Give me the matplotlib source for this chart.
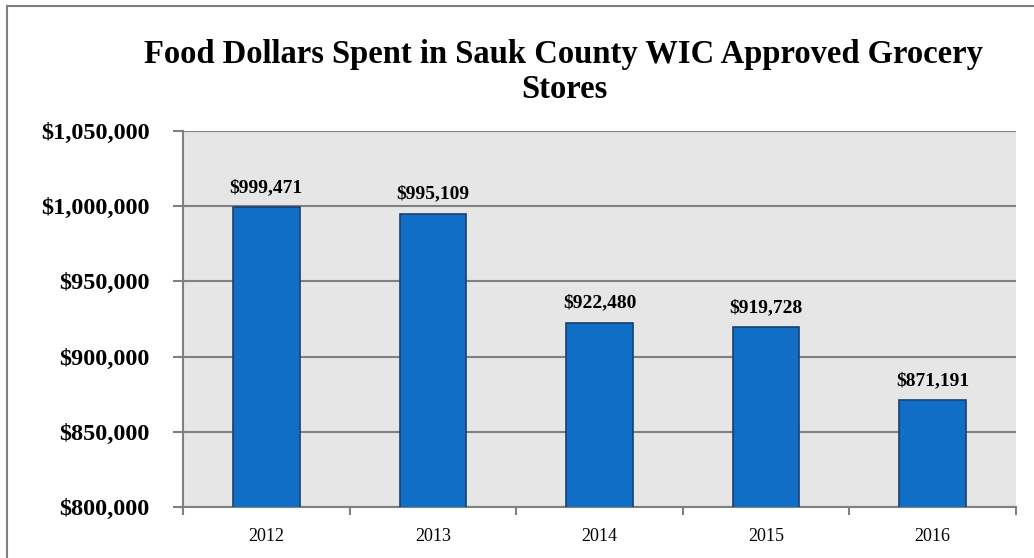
import matplotlib
matplotlib.use("Agg")
import matplotlib.pyplot as plt
from matplotlib.lines import Line2D

years = ["2012", "2013", "2014", "2015", "2016"]
dollars = [999471, 995109, 922480, 919728, 871191]
yticks = [800000, 850000, 900000, 950000, 1000000, 1050000]
title = "Food Dollars Spent in Sauk County WIC Approved Grocery\nStores"

serif = ["Liberation Serif", "DejaVu Serif"]

fig = plt.figure(figsize=(10.34, 5.58), dpi=100)
W, H = 1034, 558
L, R, T, B = 183, 1016, 131, 507
ax = fig.add_axes([L / W, 1 - B / H, (R - L) / W, (B - T) / H])
ax.set_facecolor("#E6E6E6")

x = list(range(len(years)))
ax.bar(x, dollars, width=0.4, color="#106EC6", edgecolor="#1B3F6E", linewidth=1.2, zorder=3)
ax.set_xlim(-0.5, len(years) - 0.5)
ax.set_ylim(800000, 1050000)
ax.set_yticks(yticks)
ax.set_yticklabels([f"${v:,.0f}" for v in yticks], fontfamily=serif, fontweight="bold", fontsize=17.5)
ax.yaxis.grid(True, color="#808080", linewidth=1.5, zorder=1)
ax.set_axisbelow(True)

ax.set_xticks([i - 0.5 for i in range(len(years) + 1)], minor=False)
ax.set_xticklabels([])
ax.set_xticks(x, minor=True)
ax.set_xticklabels(years, minor=True, fontfamily=serif, fontsize=13)
ax.tick_params(axis="x", which="major", length=6, width=1.5, color="#808080", direction="out")
ax.tick_params(axis="x", which="minor", length=0, pad=15)
ax.tick_params(axis="y", length=7, width=1.5, color="#808080", direction="out", pad=17)

for s in ["top", "right"]:
    ax.spines[s].set_visible(False)
for s in ["left", "bottom"]:
    ax.spines[s].set_color("#808080")
    ax.spines[s].set_linewidth(1.5)

for xi, v in zip(x, dollars):
    ax.annotate(f"${v:,.0f}", (xi, v), xytext=(0, 8), textcoords="offset points",
                ha="center", va="bottom", fontfamily=serif, fontweight="bold", fontsize=14)

fig.text(564 / W, 1 - 72 / H, title, ha="center", va="center", fontfamily=serif,
         fontweight="bold", fontsize=23.5, linespacing=1.2)

fig.add_artist(Line2D([7 / W, 7 / W], [0, 1 - 6 / H], transform=fig.transFigure,
                      color="#808080", linewidth=1.5))
fig.add_artist(Line2D([7 / W, 1], [1 - 6 / H, 1 - 6 / H], transform=fig.transFigure,
                      color="#808080", linewidth=1.5))

fig.savefig("out.png", dpi=100)
